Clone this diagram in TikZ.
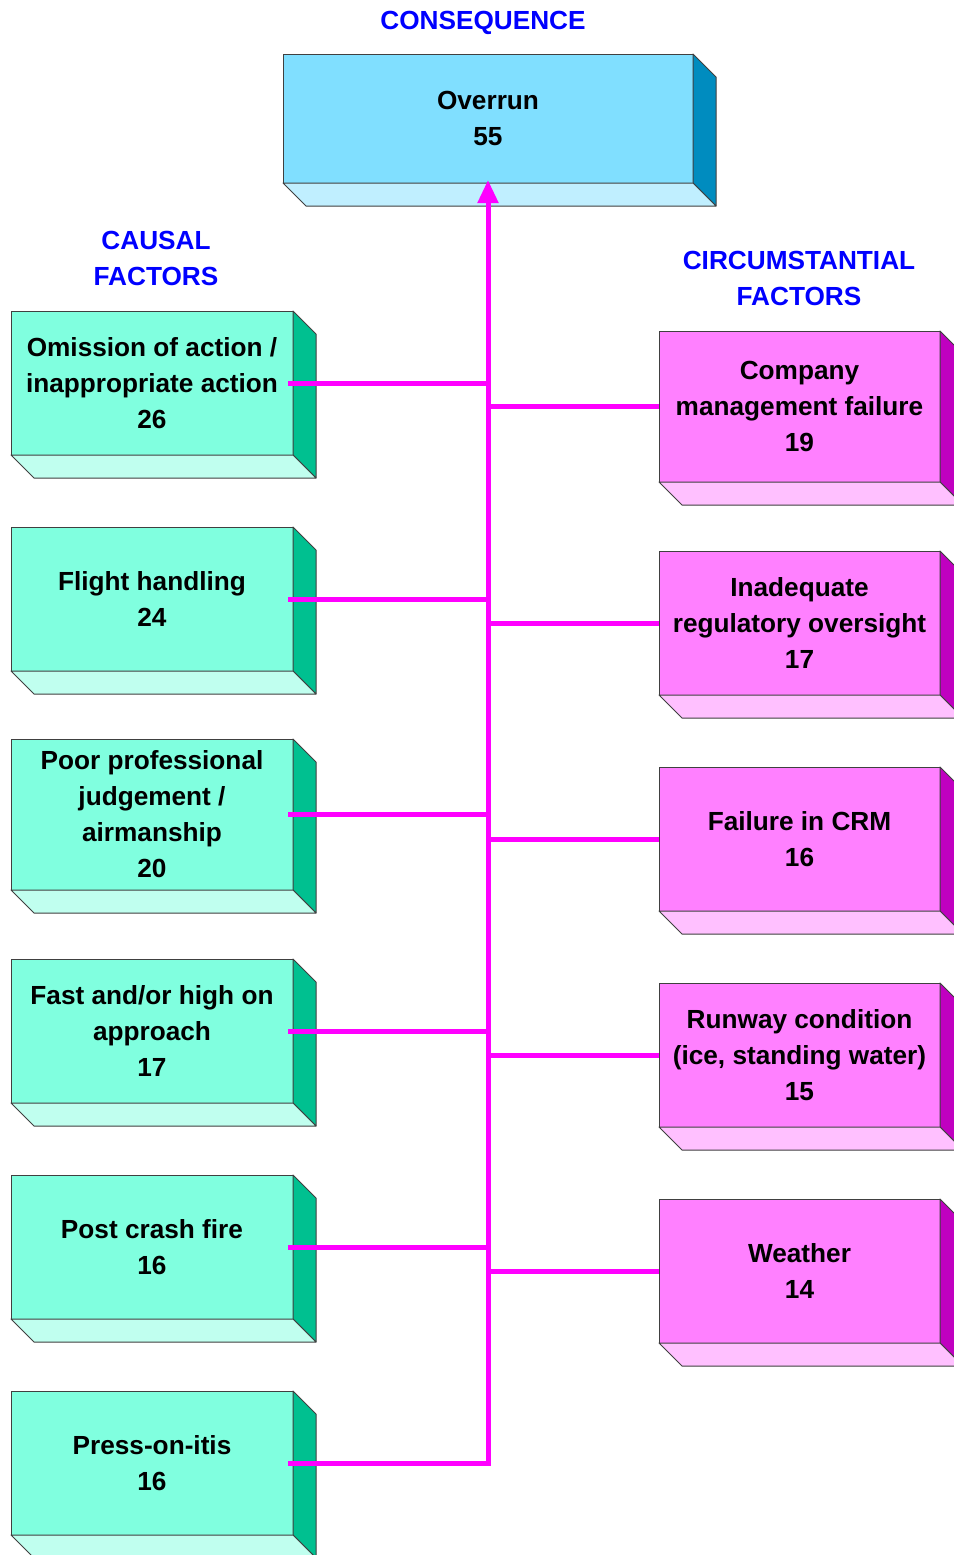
\documentclass[tikz,border=0pt]{standalone}
\usepackage{fontspec}
\setmainfont{Liberation Sans}
\usepackage{tikz}
\usetikzlibrary{arrows.meta,positioning,calc}

\definecolor{topfront}{RGB}{128,223,255}
\definecolor{topside}{RGB}{0,140,191}
\definecolor{topbottom}{RGB}{192,239,255}
\definecolor{causfront}{RGB}{128,255,223}
\definecolor{causside}{RGB}{0,192,144}
\definecolor{causbottom}{RGB}{192,255,239}
\definecolor{circfront}{RGB}{255,128,255}
\definecolor{circside}{RGB}{192,0,192}
\definecolor{circbottom}{RGB}{255,192,255}
\definecolor{linkmag}{RGB}{255,0,255}
\definecolor{headblue}{RGB}{0,0,255}

\tikzset{
  boxtext/.style={font=\fontsize{13.1pt}{18pt}\selectfont\bfseries, align=center},
  frontbox/.style={rectangle, draw=black!75, line width=0.5pt, inner sep=0pt, outer sep=0pt, boxtext},
  causal/.style={frontbox, fill=causfront, minimum width=141pt, minimum height=72pt},
  circum/.style={frontbox, fill=circfront, minimum width=140.5pt, minimum height=72pt},
  conseq/.style={frontbox, fill=topfront, minimum width=205pt, minimum height=64.5pt},
  heading/.style={boxtext, text=headblue},
  face/.style={draw=black!75, line width=0.5pt, line join=round},
  link/.style={draw=linkmag, line width=2.5pt}
}

\begin{document}
\begin{tikzpicture}[x=0.5pt, y=-0.5pt]
\useasboundingbox (0,0) rectangle (954,1555);

\node at (483,22.5) [heading] (HC) {CONSEQUENCE};
\node at (156,258) [heading] (HA) {CAUSAL\\FACTORS};
\node at (799,278) [heading] (HB) {CIRCUMSTANTIAL\\FACTORS};

\node at (488,118.5) [conseq] (top) {Overrun\\55};

\node at (152,383) [causal] (C1) {Omission of action /\\inappropriate action\\26};
\node at (152,599) [causal] (C2) {Flight handling\\24};
\node at (152,814.5) [causal, minimum height=75.5pt] (C3) {Poor professional\\judgement /\\airmanship\\20};
\node at (152,1031) [causal] (C4) {Fast and/or high on\\approach\\17};
\node at (152,1247) [causal] (C5) {Post crash fire\\16};
\node at (152,1463) [causal] (C6) {Press-on-itis\\16};

\node at (799.5,406.5) [circum, minimum height=75.5pt] (R1) {Company\\management failure\\19};
\node at (799.5,623) [circum] (R2) {Inadequate\\regulatory oversight\\17};
\node at (799.5,839) [circum] (R3) {Failure in CRM\\16};
\node at (799.5,1055) [circum] (R4) {Runway condition\\(ice, standing water)\\15};
\node at (799.5,1271) [circum] (R5) {Weather\\14};

\foreach \n/\s/\b in {top/topside/topbottom, C1/causside/causbottom, C2/causside/causbottom,
    C3/causside/causbottom, C4/causside/causbottom, C5/causside/causbottom, C6/causside/causbottom,
    R1/circside/circbottom, R2/circside/circbottom, R3/circside/circbottom, R4/circside/circbottom,
    R5/circside/circbottom} {
  \filldraw[face, fill=\s] (\n.north east) -- ++(23,23) -- ([shift={(23,23)}]\n.south east) -- (\n.south east) -- cycle;
  \filldraw[face, fill=\b] (\n.south west) -- ++(23,23) -- ([shift={(23,23)}]\n.south east) -- (\n.south east) -- cycle;
}

\draw[link, -{Triangle[length=11.5pt, width=10pt]}] ([xshift=-2.5pt]C6.east) -| ([yshift=1.5pt]top.south);
\foreach \n in {C1,C2,C3,C4,C5}
  \draw[link] ([xshift=-2.5pt]\n.east) -- (\n.east -| top.south);
\foreach \n in {R1,R2,R3,R4,R5}
  \draw[link] (\n.west) -- (\n.west -| top.south);

\end{tikzpicture}
\end{document}
